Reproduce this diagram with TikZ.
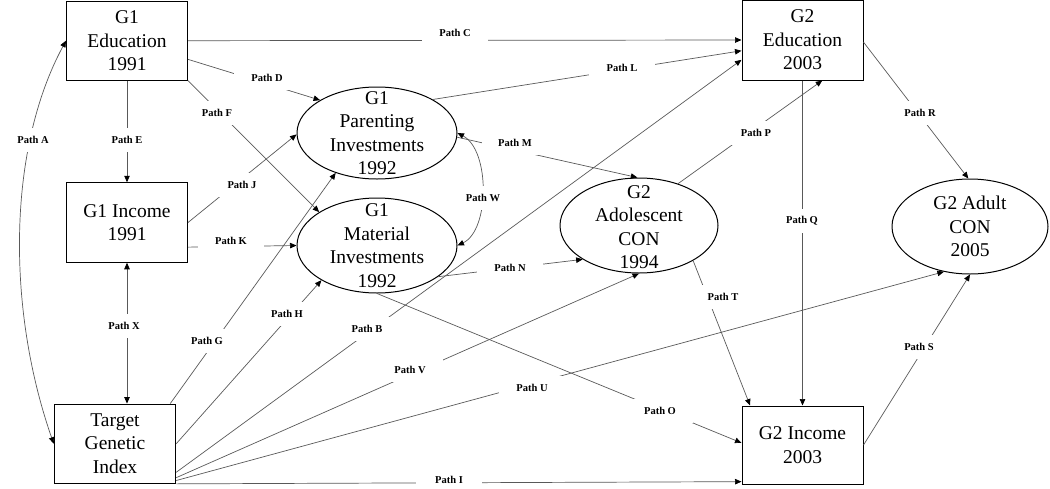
\documentclass[tikz,border=0pt]{standalone}
\usepackage{fontspec}
\setmainfont{Liberation Serif}
\usetikzlibrary{shapes.geometric,arrows.meta}
\begin{document}
\begin{tikzpicture}[x=1pt,y=-1pt,
  box/.style={draw=black, line width=1pt, rectangle, inner sep=0pt, align=center, font=\fontsize{19.5}{23.5}\selectfont},
  ell/.style={draw=black, line width=1pt, ellipse, inner sep=0pt},
  txt/.style={align=center, inner sep=0pt, font=\fontsize{19.5}{23.5}\selectfont},
  tip/.style={Triangle[length=6.5pt,width=5.5pt,color=black]},
  con/.style={draw=black!65, line width=0.7pt, -{Triangle[length=6.5pt,width=5.5pt,color=black]}},
  bicon/.style={draw=black!65, line width=0.7pt, {Triangle[length=6.5pt,width=5.5pt,color=black]}-{Triangle[length=6.5pt,width=5.5pt,color=black]}},
  lbl/.style={fill=white, minimum width=66pt, minimum height=24pt, inner sep=0pt, font=\fontsize{10.5}{12}\selectfont\bfseries, text=black}
]
\useasboundingbox (0,0) rectangle (1050,488);

% nodes
\node[box, minimum width=121pt, minimum height=79pt] (edu1) at (127,40.7) {G1\\Education\\1991};
\node[box, minimum width=121pt, minimum height=79.5pt] (inc1) at (127,222.5) {G1 Income\\1991};
\node[box, minimum width=121.5pt, minimum height=79.3pt] (tgi) at (115,443.7) {Target\\Genetic\\Index};
\node[box, minimum width=121pt, minimum height=80pt] (edu2) at (802.5,40) {G2\\Education\\2003};
\node[box, minimum width=121pt, minimum height=78pt] (inc2) at (802.5,445) {G2 Income\\2003};

\node[ell, minimum width=160pt, minimum height=92pt] (par) at (377,133) {};
\node[txt] (part) at (par) {G1\\Parenting\\Investments\\1992};
\node[ell, minimum width=160pt, minimum height=95pt] (mat) at (377,245.5) {};
\node[txt] (matt) at (mat) {G1\\Material\\Investments\\1992};
\node[ell, minimum width=158pt, minimum height=95pt] (ado) at (639,225.5) {};
\node[txt] (adot) at ([yshift=-1.5pt]ado.center) {G2\\Adolescent\\CON\\1994};
\node[ell, minimum width=156pt, minimum height=95pt] (adu) at (970,226.5) {};
\node[txt] (adut) at (adu) {G2 Adult\\CON\\2005};

% connectors
\draw[bicon] (edu1.west) .. controls (7,150) and (7,310) .. (tgi.west); % A
\draw[con] (edu1.east) -- (edu2.west); % C
\draw[con] (edu1.-17) -- (par.150); % D
\draw[con] (edu1.south east) -- (mat.150); % F
\draw[con] (edu1.south) -- (inc1.north); % E
\draw[con] (inc1.east) -- (par.181); % J
\draw[con] (inc1.-22) -- (mat.west); % K
\draw[bicon] (inc1.south) -- (inc1.south |- tgi.north); % X
\draw[con] (tgi.36) -- (par.224); % G
\draw[con] (tgi.east) -- (mat.212); % H
\draw[con] (tgi.-25) -- (edu2.198); % B
\draw[con] (tgi.-29) -- (ado.south); % V
\draw[con] (tgi.-31) -- (adu.240); % U
\draw[con] (tgi.south east) -- (inc2.211); % I
\draw[con] (mat.south) -- (inc2.178); % O
\draw[con] (par.31) -- (edu2.190); % L
\draw[con] (par.-3) -- (ado.92); % M
\draw[bicon] (par.east) .. controls (490,150) and (490,230) .. (mat.east); % W
\draw[con] (mat.-27) -- (ado.211); % N
\draw[con] (ado.47) -- (edu2.-64); % P
\draw[con] (edu2.south) -- (edu2.south |- inc2.north); % Q
\draw[con] (edu2.-2) -- (adu.92); % R
\draw[con] (ado.-33) -- (inc2.143); % T
\draw[con] (inc2.east) -- (adu.south); % S

% labels
\node[lbl] (lA) at (33,140) {Path A};
\node[lbl] (lB) at (367,329) {Path B};
\node[lbl] (lC) at (455,33) {Path C};
\node[lbl] (lD) at (267,78) {Path D};
\node[lbl] (lE) at (127,140) {Path E};
\node[lbl] (lF) at (217,113) {Path F};
\node[lbl] (lG) at (207,341) {Path G};
\node[lbl] (lH) at (287,314) {Path H};
\node[lbl] (lI) at (449,480) {Path I};
\node[lbl] (lJ) at (242,185) {Path J};
\node[lbl] (lK) at (231,241) {Path K};
\node[lbl] (lL) at (622,68) {Path L};
\node[lbl] (lM) at (515,143) {Path M};
\node[lbl] (lN) at (510,268) {Path N};
\node[lbl] (lO) at (660,411) {Path O};
\node[lbl] (lP) at (756,133) {Path P};
\node[lbl] (lQ) at (802,221) {Path Q};
\node[lbl] (lR) at (920,113) {Path R};
\node[lbl] (lS) at (919,347) {Path S};
\node[lbl] (lT) at (723,297) {Path T};
\node[lbl] (lU) at (532,388) {Path U};
\node[lbl] (lV) at (410,370) {Path V};
\node[lbl] (lW) at (483,198) {Path W};
\node[lbl] (lX) at (124,326) {Path X};
\end{tikzpicture}
\end{document}
